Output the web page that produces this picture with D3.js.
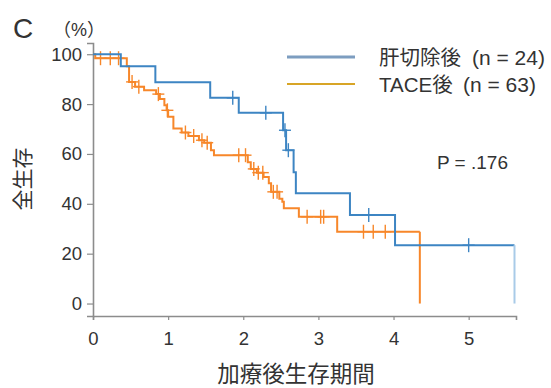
<!DOCTYPE html>
<html>
<head>
<meta charset="utf-8">
<script src="https://cdn.jsdelivr.net/npm/d3@7"></script>
<style>
  html, body { margin: 0; padding: 0; background: #fff; }
  svg { display: block; }
  text { font-family: "Liberation Sans", "Noto Sans CJK JP", sans-serif; fill: #333; }
</style>
</head>
<body>
<svg id="chart" width="551" height="388"></svg>
<script>
// ---- Data ----
const xTicks = [0, 1, 2, 3, 4, 5];
const yTicks = [0, 20, 40, 60, 80, 100];

// 肝切除後 (n = 24): event times (years) and survival (%) after each step
const resectionTimes = [0.37, 0.83, 1.56, 1.94, 2.53, 2.57, 2.67, 2.70, 3.42, 4.02];
const resectionSurv  = [95.2, 88.8, 82.5, 76.5, 69.5, 61.5, 52.7, 44.2, 35.5, 23.4];
const resectionCensor = [1.86, 2.30, 2.555, 2.60, 3.67, 5.00];
const resectionEnd = 5.61;

// TACE後 (n = 63)
const taceTimes = [0.03, 0.45, 0.48, 0.56, 0.68, 0.84, 0.89, 0.95, 0.98, 1.00, 1.07, 1.18, 1.27, 1.41, 1.48, 1.57, 1.61,
                   2.06, 2.10, 2.18, 2.27, 2.34, 2.37, 2.48, 2.52, 2.54, 2.74, 3.25];
const taceSurv  = [98.4, 95.2, 88.9, 87.0, 85.5, 84.0, 82.0, 79.5, 77.5, 74.9, 70.2, 68.6, 67.2, 65.5, 64.5, 61.5, 59.5,
                   56.7, 54.0, 52.5, 50.8, 48.2, 44.8, 42.0, 40.8, 38.2, 34.8, 28.8];
const taceCensor = [0.10, 0.23, 0.34, 0.52, 0.61, 0.87, 0.99, 1.23, 1.34, 1.45, 1.52, 1.94, 2.03, 2.14, 2.20, 2.26,
                    2.40, 2.45, 2.85, 3.03, 3.07, 3.60, 3.73, 3.89];
const taceEnd = 4.35;

const seriesLabels = ["肝切除後", "TACE後"];
const seriesN = ["(n = 24)", "(n = 63)"];

// ---- Drawing ----
const svg = d3.select("#chart");
const x = d3.scaleLinear().domain([0, 5.63]).range([93, 516]);
const y = d3.scaleLinear().domain([-5, 104.5]).range([316, 43]);

const blue = "#3d85c3", orange = "#f7872a";

function stepPoints(times, surv, endT) {
  const pts = [[0, 100]];
  let prev = 100;
  times.forEach((t, i) => { pts.push([t, prev]); pts.push([t, surv[i]]); prev = surv[i]; });
  pts.push([endT, prev]);
  return pts;
}
function survAt(times, surv, t) {
  let s = 100;
  times.forEach((tt, i) => { if (tt <= t) s = surv[i]; });
  return s;
}
const line = d3.line().x(d => x(d[0])).y(d => y(d[1]));

function drawSeries(times, surv, censor, endT, color, endColor) {
  const pts = stepPoints(times, surv, endT);
  const last = surv[surv.length - 1];
  svg.append("path").attr("d", line(pts)).attr("fill", "none")
    .attr("stroke", color).attr("stroke-width", 2);
  svg.append("path").attr("d", line([[endT, last], [endT, 0]])).attr("fill", "none")
    .attr("stroke", endColor).attr("stroke-width", 2);
  const g = svg.append("g").attr("stroke", color).attr("stroke-width", 1.4);
  censor.forEach(t => {
    const cx = x(t), cy = y(survAt(times, surv, t));
    g.append("line").attr("x1", cx).attr("x2", cx).attr("y1", cy - 7).attr("y2", cy + 7);
    g.append("line").attr("x1", cx - 6).attr("x2", cx + 6).attr("y1", cy).attr("y2", cy);
  });
}

// axes
const axisColor = "#8c8c8c";
const yAxis = svg.append("g").attr("transform", `translate(${x(0)},0)`)
  .call(d3.axisLeft(y).tickValues(yTicks).tickFormat(d3.format("d")).tickSize(6).tickPadding(5));
const xAxis = svg.append("g").attr("transform", `translate(0,${y(-5)})`)
  .call(d3.axisBottom(x).tickValues(xTicks).tickFormat(d3.format("d")).tickSize(4).tickPadding(12));
[yAxis, xAxis].forEach(a => {
  a.select(".domain").attr("stroke", axisColor).attr("stroke-width", 1.6);
  a.selectAll(".tick line").attr("stroke", axisColor).attr("stroke-width", 1.2);
  a.selectAll(".tick text").attr("font-size", 18.5).attr("fill", "#333")
    .attr("font-family", "Liberation Sans, sans-serif");
});

drawSeries(taceTimes, taceSurv, taceCensor, taceEnd, orange, orange);
drawSeries(resectionTimes, resectionSurv, resectionCensor, resectionEnd, blue, "#a9cbe8");

// legend
const legendColors = ["#7d9dc0", "#d8a526"];
const legendWidths = [3, 2];
const nX = [472, 463];
seriesLabels.forEach((name, i) => {
  const ly = 57 + i * 27;
  svg.append("line").attr("x1", 287).attr("x2", 355).attr("y1", ly).attr("y2", ly)
    .attr("stroke", legendColors[i]).attr("stroke-width", legendWidths[i]);
  svg.append("text").attr("x", 379).attr("y", ly + 8).attr("font-size", 20.5)
    .attr("font-family", "Noto Sans CJK JP, sans-serif").text(name);
  svg.append("text").attr("x", nX[i]).attr("y", ly + 8).attr("font-size", 20.5)
    .attr("textLength", 73).attr("lengthAdjust", "spacingAndGlyphs").text(seriesN[i]);
});

// annotations
svg.append("text").attr("x", 437).attr("y", 169).attr("font-size", 19).text("P = .176");
svg.append("text").attr("x", 13).attr("y", 38).attr("font-size", 28).attr("fill", "#111").text("C");
svg.append("text").attr("x", 53).attr("y", 36).attr("font-size", 18).attr("fill", "#777")
  .attr("font-family", "Noto Sans CJK JP, sans-serif").text("（%）");
svg.append("text").attr("transform", "translate(30,179) rotate(-90)").attr("text-anchor", "middle")
  .attr("font-size", 21).attr("font-family", "Noto Sans CJK JP, sans-serif").text("全生存");
svg.append("text").attr("x", 296).attr("y", 382).attr("text-anchor", "middle")
  .attr("font-size", 22.5).attr("font-family", "Noto Sans CJK JP, sans-serif").text("加療後生存期間");
</script>
</body>
</html>
